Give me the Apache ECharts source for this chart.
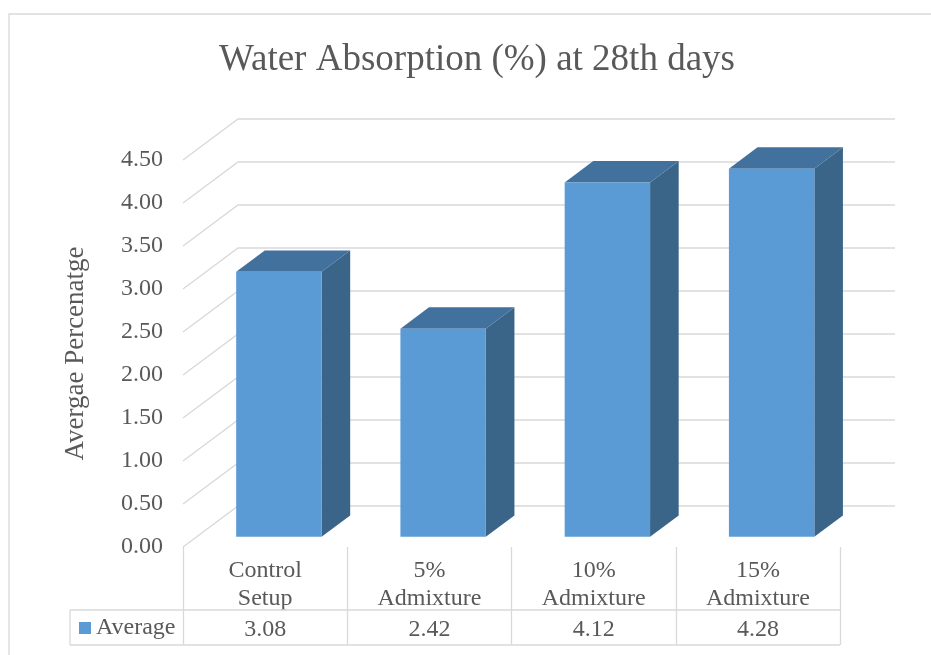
<!DOCTYPE html>
<html>
<head>
<meta charset="utf-8">
<script src="https://cdn.jsdelivr.net/npm/echarts@6/dist/echarts.min.js"></script>
<style>html,body{margin:0;padding:0;background:#fff}#c{width:931px;height:655px}</style>
</head>
<body>
<div id="c"></div>
<script>
const titleText = 'Water Absorption (%) at 28th days';
const categories = ['Control\nSetup', '5%\nAdmixture', '10%\nAdmixture', '15%\nAdmixture'];
const seriesName = 'Average';
const values = [3.08, 2.42, 4.12, 4.28];
const yTicks = [0, 0.5, 1, 1.5, 2, 2.5, 3, 3.5, 4, 4.5];
const yAxisName = 'Avergae Percenatge';

const FONT = 'Liberation Serif';
const TXT = '#595959';
const GRID = '#D9D9D9';
const LBL = 24;
const DX = 55, DY = -41;        // full depth of the floor
const F0 = 0.25, F1 = 0.77;     // bar depth (fraction)
const BAR_W = 0.52;

const chart = echarts.init(document.getElementById('c'), null, {renderer: 'canvas'});

function wallItem(params, api) {
  const cs = params.coordSys;
  const y = api.coord([0, api.value(1)])[1];
  const l = cs.x, r = cs.x + cs.width;
  return {
    type: 'polyline',
    shape: {points: [[l, y], [l + DX, y + DY], [r + DX, y + DY]]},
    style: {stroke: GRID, lineWidth: 1.3, fill: null},
    silent: true
  };
}

function barItem(params, api) {
  const i = api.value(0), v = api.value(1);
  const p0 = api.coord([i, 0]);
  const p1 = api.coord([i, v]);
  const w = api.size([1, 0])[0] * BAR_W;
  const ox = F0 * DX, oy = F0 * DY;
  const dx = (F1 - F0) * DX, dy = (F1 - F0) * DY;
  const xl = p0[0] - w / 2 + ox, xr = p0[0] + w / 2 + ox;
  const yb = p0[1] + oy, yt = p1[1] + oy;
  return {
    type: 'group',
    children: [
      {type: 'polygon', shape: {points: [[xr, yt], [xr + dx, yt + dy], [xr + dx, yb + dy], [xr, yb]]},
        style: {fill: '#3A6589'}},
      {type: 'polygon', shape: {points: [[xl, yt], [xr, yt], [xr + dx, yt + dy], [xl + dx, yt + dy]]},
        style: {fill: '#41719C'}},
      {type: 'rect', shape: {x: xl, y: yt, width: xr - xl, height: yb - yt},
        style: {fill: '#5B9BD5'}},
      {type: 'text', x: p0[0], y: p0[1] + 83,
        style: {text: v.toFixed(2), fill: TXT, font: LBL + 'px "' + FONT + '"', align: 'center', verticalAlign: 'middle'}}
    ]
  };
}

function tableItem(params, api) {
  const cs = params.coordSys;
  const yb = cs.y + cs.height;
  const y1 = yb + 63, y2 = yb + 98;
  const xl = 70, xr = cs.x + cs.width;
  const st = {stroke: GRID, lineWidth: 1.3};
  return {
    type: 'group',
    children: [
      {type: 'line', shape: {x1: xl, y1: y1, x2: xr, y2: y1}, style: st},
      {type: 'line', shape: {x1: xl, y1: y2, x2: xr, y2: y2}, style: st},
      {type: 'line', shape: {x1: xl, y1: y1, x2: xl, y2: y2}, style: st}
    ],
    silent: true
  };
}

chart.setOption({
  animation: false,
  backgroundColor: '#fff',
  title: {
    text: titleText, left: 477, top: 42, textAlign: 'center', padding: 0,
    textStyle: {fontFamily: FONT, fontSize: 37, fontWeight: 'normal', color: TXT}
  },
  graphic: [{type: 'rect', shape: {x: 9, y: 14, width: 1000, height: 1000},
    style: {fill: null, stroke: GRID, lineWidth: 1.3}, silent: true, z: -10}],
  legend: {
    data: [seriesName], left: 79, top: 616, padding: 0, icon: 'rect',
    itemWidth: 12, itemHeight: 12, itemGap: 4,
    textStyle: {fontFamily: FONT, fontSize: LBL, color: TXT, padding: [0, 0, 0, 0]}
  },
  grid: {left: 183, right: 91, top: 160, bottom: 108, containLabel: false},
  xAxis: {
    type: 'category', data: categories, boundaryGap: true,
    axisLine: {show: false},
    axisTick: {show: true, interval: 0, length: 98, lineStyle: {color: GRID, width: 1.3}},
    axisLabel: {interval: 0, margin: 10, lineHeight: 28, fontFamily: FONT, fontSize: LBL, color: TXT},
    splitLine: {show: false}
  },
  yAxis: {
    type: 'value', min: 0, max: 4.5, interval: 0.5,
    name: yAxisName, nameLocation: 'middle', nameRotate: 90, nameGap: 94,
    nameTextStyle: {fontFamily: FONT, fontSize: 27, color: TXT},
    axisLine: {show: false}, axisTick: {show: false}, splitLine: {show: false},
    axisLabel: {margin: 20, fontFamily: FONT, fontSize: LBL, color: TXT, formatter: v => v.toFixed(2)}
  },
  series: [
    {type: 'custom', name: 'walls', renderItem: wallItem, data: yTicks.map(v => [0, v]),
      encode: {x: 0, y: 1}, z: 1, silent: true, tooltip: {show: false}},
    {type: 'custom', name: 'table', renderItem: tableItem, data: [[0, 0]],
      encode: {x: 0, y: 1}, z: 1, silent: true},
    {type: 'custom', name: seriesName, renderItem: barItem, data: values.map((v, i) => [i, v]),
      encode: {x: 0, y: 1}, z: 3, itemStyle: {color: '#5B9BD5'}}
  ]
});
</script>
</body>
</html>
